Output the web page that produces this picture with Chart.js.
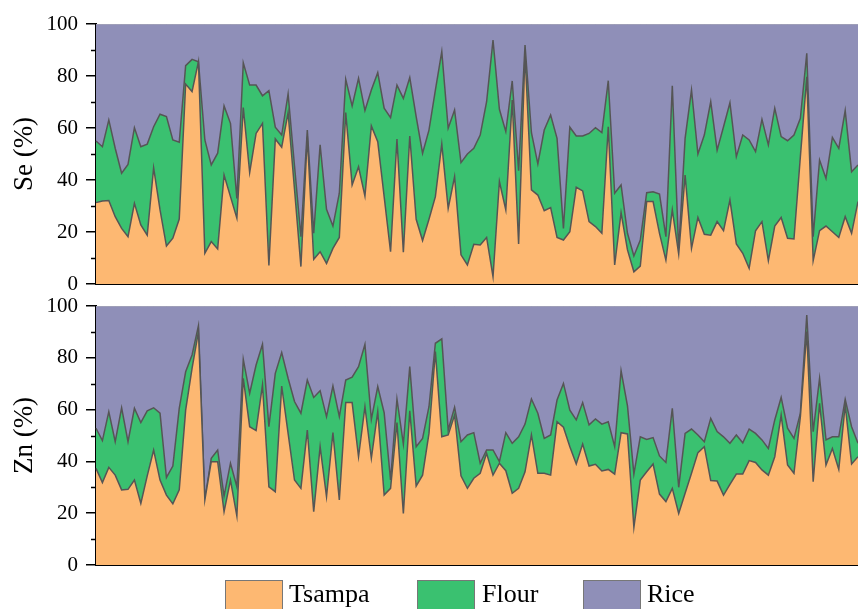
<!DOCTYPE html>
<html>
<head>
<meta charset="utf-8">
<script src="https://cdn.jsdelivr.net/npm/chart.js@4.4.1/dist/chart.umd.min.js"></script>
<style>
  html, body { margin: 0; padding: 0; background: #fff; overflow: hidden; }
  #wrap { position: relative; width: 858px; height: 609px; overflow: hidden; background: #fff; }
  #c1 { position: absolute; left: 0; top: 0; }
  #c2 { position: absolute; left: 0; top: 295px; }
  .lg-box { position: absolute; top: 580px; width: 56px; height: 40px; border: 1px solid #777; }
  .lg-txt { position: absolute; top: 581px; font-family: 'Liberation Serif', 'Times New Roman', serif; font-size: 26px; line-height: 26px; color: #000; white-space: nowrap; }
</style>
</head>
<body>
<div id="wrap">
  <canvas id="c1" width="858" height="295"></canvas>
  <canvas id="c2" width="858" height="285"></canvas>
  <div class="lg-box" style="left:225px;background:#FDB872"></div>
  <div class="lg-txt" style="left:289px">Tsampa</div>
  <div class="lg-box" style="left:417px;background:#3AC170"></div>
  <div class="lg-txt" style="left:482px">Flour</div>
  <div class="lg-box" style="left:583px;background:#8F8FB8"></div>
  <div class="lg-txt" style="left:647px">Rice</div>
</div>
<script>
const seriesNames = ['Tsampa', 'Flour', 'Rice'];
const samples = Array.from({ length: 120 }, (_, i) => String(i + 1));
const yTicks = [0, 20, 40, 60, 80, 100];

const seTsampa = [31.3,31.9,32.1,25.9,21.4,18.2,31.0,22.7,18.8,44.7,
  28.5,14.6,17.6,25.0,76.9,74.0,85.5,11.8,16.3,13.5,
  41.9,33.6,25.3,67.9,42.9,57.9,61.8,7.1,55.8,52.6,
  65.9,36.5,6.7,56.7,9.5,12.4,7.9,13.7,17.9,65.9,
  38.1,45.1,33.8,60.8,54.7,33.6,12.4,55.8,12.2,56.9,
  24.9,16.7,24.9,33.6,53.8,29.1,41.3,11.2,7.3,15.3,
  15.0,17.9,2.8,39.4,28.5,70.8,15.4,88.7,36.2,34.2,
  28.2,29.4,17.9,16.9,20.1,37.2,35.8,24.0,22.1,19.5,
  60.5,7.3,27.4,13.1,4.7,6.9,31.7,31.7,19.5,9.2,
  28.5,11.5,41.9,13.7,25.6,19.1,18.8,24.0,20.5,32.3,
  15.4,11.8,6.0,20.5,24.0,9.0,22.3,25.6,17.6,17.3,
  49.0,79.7,9.0,20.5,22.3,20.1,17.9,25.9,19.5,31.7];
const seFlour = [23.7,20.9,31.0,26.3,21.2,27.8,29.1,30.1,35.0,15.8,
  36.8,49.8,37.8,29.5,7.1,12.4,0.0,43.6,29.5,36.8,
  26.6,28.2,7.6,17.2,33.6,18.6,10.6,67.3,4.5,4.7,
  7.2,9.0,11.5,2.5,10.0,41.1,20.8,8.6,17.0,12.8,
  30.4,34.0,32.9,13.8,26.6,34.0,51.6,20.7,59.2,22.5,
  39.5,33.6,34.3,41.0,35.6,30.8,25.6,35.5,42.7,36.9,
  42.3,52.2,91.0,27.8,30.1,7.3,28.2,3.2,22.0,12.0,
  31.0,35.6,38.1,4.5,40.2,19.7,21.1,33.9,38.0,38.7,
  17.7,27.6,10.7,6.4,6.1,10.0,3.4,3.8,15.1,9.0,
  47.7,1.6,14.1,60.9,24.4,38.2,51.3,27.5,40.0,37.4,
  33.6,45.5,49.4,30.4,39.3,44.5,45.3,31.1,37.5,40.0,
  14.7,9.0,9.2,27.2,18.3,36.3,34.3,40.8,23.7,14.1];
const seRice = [45.0,47.2,36.9,47.8,57.4,54.0,39.9,47.2,46.2,39.5,
  34.7,35.6,44.6,45.5,16.0,13.6,14.5,44.6,54.2,49.7,
  31.5,38.2,67.1,14.9,23.5,23.5,27.6,25.6,39.7,42.7,
  26.9,54.5,81.8,40.8,80.5,46.5,71.3,77.7,65.1,21.3,
  31.5,20.9,33.3,25.4,18.7,32.4,36.0,23.5,28.6,20.6,
  35.6,49.7,40.8,25.4,10.6,40.1,33.1,53.3,50.0,47.8,
  42.7,29.9,6.2,32.8,41.4,21.9,56.4,8.1,41.8,53.8,
  40.8,35.0,44.0,78.6,39.7,43.1,43.1,42.1,39.9,41.8,
  21.8,65.1,61.9,80.5,89.2,83.1,64.9,64.5,65.4,81.8,
  23.8,86.9,44.0,25.4,50.0,42.7,29.9,48.5,39.5,30.3,
  51.0,42.7,44.6,49.1,36.7,46.5,32.4,43.3,44.9,42.7,
  36.3,11.3,81.8,52.3,59.4,43.6,47.8,33.3,56.8,54.2];

const znTsampa = [37.3,31.8,37.7,34.7,29.0,29.2,32.8,23.8,34.4,44.4,
  32.8,27.0,23.6,29.0,59.8,75.9,90.1,25.1,39.9,39.9,
  20.6,32.8,18.9,72.1,53.4,51.9,69.5,30.2,28.3,69.1,
  50.8,32.8,29.6,52.1,20.6,45.7,26.4,51.1,25.1,62.7,
  62.7,41.8,61.1,41.2,59.2,27.0,29.6,55.0,19.9,59.5,
  30.5,34.7,50.8,82.4,49.5,50.2,57.9,34.4,29.6,33.5,
  35.4,43.1,34.7,39.3,36.4,27.7,29.6,36.0,50.2,35.4,
  35.4,34.7,55.3,53.2,45.7,39.0,46.7,38.2,38.9,36.3,
  36.9,35.1,51.1,50.6,14.5,32.8,36.0,39.0,27.4,24.5,
  29.6,19.9,27.7,35.4,43.4,45.7,32.6,32.4,27.0,31.1,
  35.1,35.1,40.3,39.6,36.7,34.7,41.8,57.9,38.6,35.4,
  57.3,90.1,32.2,62.4,38.6,45.0,36.9,61.8,39.0,41.8];
const znFlour = [15.5,16.2,21.5,12.9,31.7,18.4,27.7,31.2,25.1,16.3,
  25.8,6.8,14.6,31.5,14.8,5.2,2.3,0.0,1.3,4.5,
  6.0,6.5,11.3,7.3,12.9,25.3,15.7,23.2,45.7,12.9,
  21.3,30.3,29.0,19.3,44.1,21.6,30.9,18.0,32.2,8.7,
  9.8,34.8,24.1,15.0,9.7,31.8,3.2,9.1,26.8,17.1,
  15.2,14.2,10.3,3.2,37.8,1.9,3.0,13.2,20.6,17.6,
  3.9,1.3,9.7,0.6,14.7,19.3,19.9,18.4,13.9,23.2,
  13.5,15.5,8.4,16.9,14.1,17.0,16.0,15.9,17.5,18.1,
  18.4,10.6,23.9,10.8,20.6,16.7,12.5,10.2,14.7,15.1,
  30.9,10.1,23.1,17.1,6.8,1.9,24.0,19.1,22.5,15.9,
  15.1,12.1,12.2,11.2,11.6,10.3,14.2,6.8,14.2,13.5,
  1.3,6.4,19.3,9.7,9.7,4.5,12.6,2.2,14.4,5.2];
const znRice = [47.2,52.0,40.8,52.4,39.3,52.4,39.5,45.0,40.5,39.3,
  41.4,66.2,61.8,39.5,25.4,18.9,7.6,74.9,58.8,55.6,
  73.4,60.7,69.8,20.6,33.7,22.8,14.8,46.6,26.0,18.0,
  27.9,36.9,41.4,28.6,35.3,32.7,42.7,30.9,42.7,28.6,
  27.5,23.4,14.8,43.8,31.1,41.2,67.2,35.9,53.3,23.4,
  54.3,51.1,38.9,14.4,12.7,47.9,39.1,52.4,49.8,48.9,
  60.7,55.6,55.6,60.1,48.9,53.0,50.5,45.6,35.9,41.4,
  51.1,49.8,36.3,29.9,40.2,44.0,37.3,45.9,43.6,45.6,
  44.7,54.3,25.0,38.6,64.9,50.5,51.5,50.8,57.9,60.4,
  39.5,70.0,49.2,47.5,49.8,52.4,43.4,48.5,50.5,53.0,
  49.8,52.8,47.5,49.2,51.7,55.0,44.0,35.3,47.2,51.1,
  41.4,3.5,48.5,27.9,51.7,50.5,50.5,36.0,46.6,53.0];

const fillColors = ['#FDB872', '#3AC170', '#8F8FB8'];
const lineColors = ['#555555', '#555555', '#b0b0b8'];
const SERIF = "'Liberation Serif', 'Times New Roman', serif";

const minorTicks = {
  id: 'minorTicks',
  afterDraw(chart) {
    const y = chart.scales.y;
    const ctx = chart.ctx;
    const left = chart.chartArea.left;
    ctx.save();
    ctx.strokeStyle = '#000';
    ctx.lineWidth = 1.5;
    for (let v = 10; v < 100; v += 20) {
      const py = Math.round(y.getPixelForValue(v)) + 0.5;
      ctx.beginPath();
      ctx.moveTo(left - 5, py);
      ctx.lineTo(left, py);
      ctx.stroke();
    }
    ctx.restore();
  }
};

function makeChart(id, title, series, padTop, xHeight) {
  return new Chart(document.getElementById(id), {
    type: 'line',
    data: {
      labels: samples,
      datasets: series.map((d, k) => ({
        label: seriesNames[k],
        data: d,
        backgroundColor: fillColors[k],
        borderColor: lineColors[k],
        borderWidth: k === 2 ? 1 : 1.5,
        fill: k === 0 ? 'origin' : '-1',
        pointRadius: 0,
        tension: 0
      }))
    },
    options: {
      responsive: false,
      animation: false,
      layout: { padding: { top: padTop, left: 0, right: 0, bottom: 0 } },
      plugins: { legend: { display: false }, tooltip: { enabled: false } },
      scales: {
        x: {
          offset: false,
          z: 1,
          grid: { display: false },
          ticks: { display: false },
          border: { display: true, color: '#000', width: 2 },
          afterFit(s) { s.height = xHeight; s.paddingLeft = 0; s.paddingRight = 0; }
        },
        y: {
          stacked: true,
          min: 0, max: 100,
          z: 1,
          afterBuildTicks(s) { s.ticks = yTicks.map(v => ({ value: v })); },
          ticks: {
            color: '#000',
            padding: 8,
            font: { family: SERIF, size: 21 }
          },
          grid: { drawOnChartArea: false, drawTicks: true, tickLength: 10, color: '#000', lineWidth: 1.5 },
          border: { display: true, color: '#000', width: 2 },
          title: {
            display: true, text: title, color: '#000',
            font: { family: SERIF, size: 27 },
            padding: { top: 9, bottom: 0 }
          },
          afterFit(s) { s.width = 96; s.paddingTop = 0; s.paddingBottom = 0; }
        }
      }
    },
    plugins: [minorTicks]
  });
}

makeChart('c1', 'Se (%)', [seTsampa, seFlour, seRice], 24, 11);
makeChart('c2', 'Zn (%)', [znTsampa, znFlour, znRice], 11, 15);
</script>
</body>
</html>
